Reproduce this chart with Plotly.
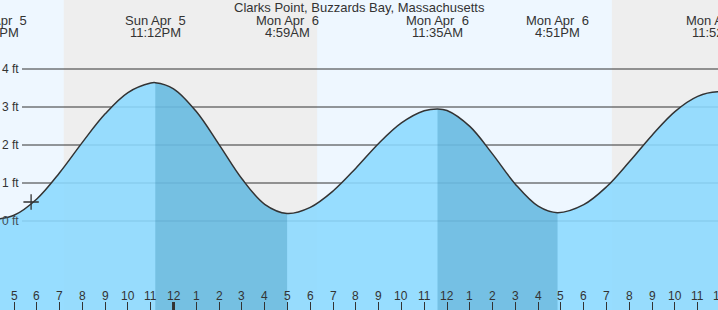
import plotly.graph_objects as go
import pandas as pd

# ---------------- data ----------------
tide_times = [
    "2026-04-05 16:14", "2026-04-05 17:00", "2026-04-05 18:00", "2026-04-05 19:00",
    "2026-04-05 20:00", "2026-04-05 21:00", "2026-04-05 22:00", "2026-04-05 23:00",
    "2026-04-05 23:12", "2026-04-06 00:00", "2026-04-06 01:00", "2026-04-06 02:00",
    "2026-04-06 03:00", "2026-04-06 04:00", "2026-04-06 04:59", "2026-04-06 06:00",
    "2026-04-06 07:00", "2026-04-06 08:00", "2026-04-06 09:00", "2026-04-06 10:00",
    "2026-04-06 11:00", "2026-04-06 11:35", "2026-04-06 12:00", "2026-04-06 13:00",
    "2026-04-06 14:00", "2026-04-06 15:00", "2026-04-06 16:00", "2026-04-06 16:51",
    "2026-04-06 18:00", "2026-04-06 19:00", "2026-04-06 20:00", "2026-04-06 21:00",
    "2026-04-06 22:00", "2026-04-06 23:00", "2026-04-06 23:52", "2026-04-07 00:30",
]
tide_heights = [
    0.05, 0.15, 0.58, 1.27,
    2.07, 2.82, 3.38, 3.63,
    3.64, 3.48, 2.88, 2.01,
    1.11, 0.44, 0.20, 0.36,
    0.79, 1.39, 2.04, 2.58,
    2.90, 2.95, 2.91, 2.49,
    1.76, 0.97, 0.39, 0.22,
    0.43, 0.90, 1.56, 2.26,
    2.88, 3.28, 3.40, 3.35,
]

event_times = ["2026-04-05 16:14", "2026-04-05 23:12", "2026-04-06 04:59",
               "2026-04-06 11:35", "2026-04-06 16:51", "2026-04-06 23:52"]
event_days = ["Sun Apr\u00a0 5", "Sun Apr\u00a0 5", "Mon Apr\u00a0 6",
              "Mon Apr\u00a0 6", "Mon Apr\u00a0 6", "Mon Apr\u00a0 6"]
event_clock = ["4:14PM", "11:12PM", "4:59AM", "11:35AM", "4:51PM", "11:52PM"]

falling_starts = ["2026-04-05 23:12", "2026-04-06 11:35"]
falling_ends = ["2026-04-06 04:59", "2026-04-06 16:51"]

night_starts = ["2026-04-05 19:11", "2026-04-06 19:14"]
night_ends = ["2026-04-06 06:18", "2026-04-07 06:16"]

grid_levels = [4, 3, 2, 1, 0]
grid_labels = ["4 ft", "3 ft", "2 ft", "1 ft", "0 ft"]

hour_tick_times = list(pd.date_range("2026-04-05 17:00", "2026-04-07 00:00", freq="h").strftime("%Y-%m-%d %H:%M"))
hour_labels = ["5", "6", "7", "8", "9", "10", "11", "12", "1", "2", "3", "4",
               "5", "6", "7", "8", "9", "10", "11", "12", "1", "2", "3", "4",
               "5", "6", "7", "8", "9", "10", "11", "12"]
midnight_ticks = ["2026-04-06 00:00"]

now_time = ["2026-04-05 17:45"]
now_height = [0.50]

title_text = "Clarks Point, Buzzards Bay, Massachusetts"

# ---------------- styling ----------------
W, H = 718, 310
FONT = "Liberation Sans, Arial, sans-serif"
x_range = ["2026-04-05 16:23:08", "2026-04-06 23:53:28"]
y_range = [-2.342, 5.816]
y_floor = -3.0
DAY = "#eef7ff"
NIGHT = "#eeeeee"
WATER = "rgba(139,218,255,0.88)"
FALL = "rgba(14,108,147,0.25)"
INK = "#333333"

r0, r1 = pd.Timestamp(x_range[0]), pd.Timestamp(x_range[1])
px_per_sec = W / (r1 - r0).total_seconds()


def place(t):
    ts = pd.Timestamp(t)
    lo, hi = r0 + pd.Timedelta(seconds=1), r1 - pd.Timedelta(seconds=1)
    c = min(max(ts, lo), hi)
    return c.strftime("%Y-%m-%d %H:%M:%S"), (ts - c).total_seconds() * px_per_sec


fig = go.Figure()

# full water (light)
fig.add_trace(go.Scatter(x=tide_times, y=[y_floor] * len(tide_times), mode="lines",
                         line=dict(width=0), hoverinfo="skip"))
fig.add_trace(go.Scatter(x=tide_times, y=tide_heights, mode="lines", fill="tonexty",
                         fillcolor=WATER, line=dict(width=0, shape="spline"), hoverinfo="skip"))

# falling-tide overlays (darker)
tt = pd.to_datetime(pd.Series(tide_times))
for fs, fe in zip(falling_starts, falling_ends):
    m = (tt >= pd.Timestamp(fs)) & (tt <= pd.Timestamp(fe))
    xs = [tide_times[i] for i in range(len(tide_times)) if m[i]]
    ys = [tide_heights[i] for i in range(len(tide_times)) if m[i]]
    fig.add_trace(go.Scatter(x=xs, y=[y_floor] * len(xs), mode="lines",
                             line=dict(width=0), hoverinfo="skip"))
    fig.add_trace(go.Scatter(x=xs, y=ys, mode="lines", fill="tonexty", fillcolor=FALL,
                             line=dict(width=0, shape="spline"), hoverinfo="skip"))

# tide curve
fig.add_trace(go.Scatter(x=tide_times, y=tide_heights, mode="lines",
                         line=dict(color=INK, width=1.5, shape="spline"), hoverinfo="skip"))

# current time marker
fig.add_trace(go.Scatter(x=now_time, y=now_height, mode="markers",
                         marker=dict(symbol="cross-thin", size=11, line=dict(color=INK, width=1.3)),
                         hoverinfo="skip"))

shapes = []
for ns, ne in zip(night_starts, night_ends):
    shapes.append(dict(type="rect", xref="x", yref="paper", x0=ns, x1=ne, y0=0, y1=1,
                       fillcolor=NIGHT, line=dict(width=0), layer="below"))
for lv in grid_levels:
    shapes.append(dict(type="line", xref="paper", yref="y", x0=22 / W, x1=1, y0=lv, y1=lv,
                       line=dict(color=INK, width=1), layer="below"))
for mt in midnight_ticks:
    shapes.append(dict(type="line", xref="x", yref="paper", x0=mt, x1=mt, y0=0, y1=8 / H,
                       line=dict(color=INK, width=3), layer="above"))

annotations = []
annotations.append(dict(text=title_text, xref="paper", yref="paper", x=0.5, y=1 - 8 / H,
                        xanchor="center", yanchor="middle", showarrow=False,
                        font=dict(family=FONT, size=13, color=INK)))
for t, d, c in zip(event_times, event_days, event_clock):
    xv, sh = place(t)
    annotations.append(dict(text=d, xref="x", yref="paper", x=xv, xshift=sh, y=1 - 20.5 / H,
                            xanchor="center", yanchor="middle", showarrow=False,
                            font=dict(family=FONT, size=13, color=INK)))
    annotations.append(dict(text=c, xref="x", yref="paper", x=xv, xshift=sh, y=1 - 32 / H,
                            xanchor="center", yanchor="middle", showarrow=False,
                            font=dict(family=FONT, size=13, color=INK)))
for lv, lb in zip(grid_levels, grid_labels):
    annotations.append(dict(text=lb, xref="paper", yref="y", x=20.5 / W, y=lv,
                            xanchor="right", yanchor="middle", showarrow=False,
                            font=dict(family=FONT, size=12, color=INK if lv > 0 else "#3f4d57")))
for t, lb in zip(hour_tick_times, hour_labels):
    xv, sh = place(t)
    annotations.append(dict(text=lb, xref="x", yref="paper", x=xv, xshift=sh, y=1 - 295.5 / H,
                            xanchor="center", yanchor="middle", showarrow=False,
                            font=dict(family=FONT, size=12, color=INK)))

fig.update_layout(
    width=W, height=H, margin=dict(l=0, r=0, t=0, b=0),
    paper_bgcolor="white", plot_bgcolor=DAY, showlegend=False,
    shapes=shapes, annotations=annotations,
    xaxis=dict(type="date", range=x_range, showgrid=False, zeroline=False, showline=False,
               tickmode="array", tickvals=hour_tick_times, ticks="inside", ticklen=8,
               tickwidth=1, tickcolor=INK, showticklabels=False, fixedrange=True),
    yaxis=dict(range=y_range, showgrid=False, zeroline=False, showline=False,
               showticklabels=False, ticks="", fixedrange=True),
)

fig.write_html("out.html", config={"displayModeBar": False})
